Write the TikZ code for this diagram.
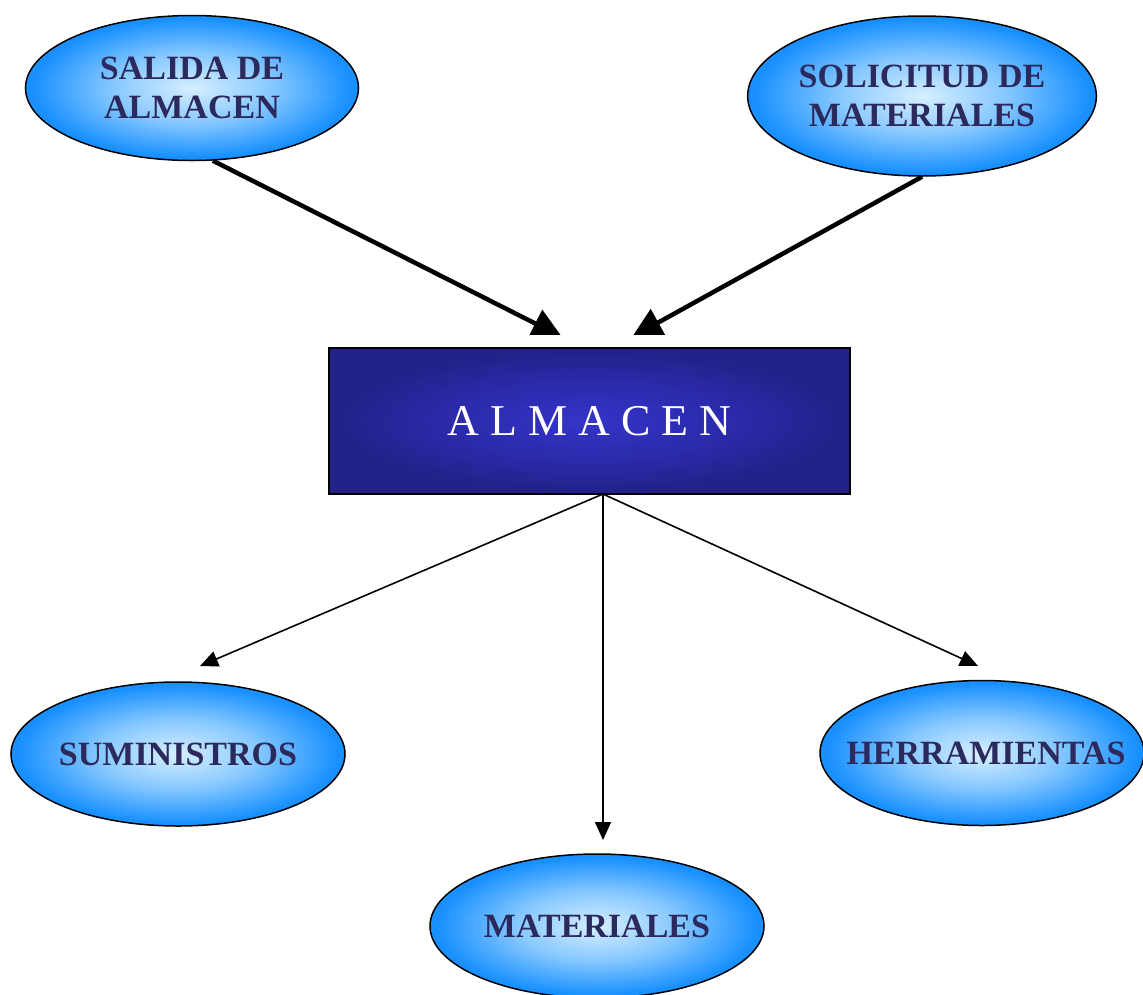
\documentclass[tikz,border=0pt]{standalone}
\usepackage{fontspec}
\setmainfont{Liberation Serif}
\usetikzlibrary{shapes.geometric,arrows.meta}

\definecolor{bubbleIn}{HTML}{D6EFFF}
\definecolor{bubbleMid}{HTML}{86C8FF}
\definecolor{bubbleOut}{HTML}{1890FF}
\definecolor{boxIn}{HTML}{3434C8}
\definecolor{boxMid}{HTML}{2A2AAA}
\definecolor{boxOut}{HTML}{22228A}
\definecolor{labelInk}{HTML}{2C2A5C}

% soft glow for the ovals and the central box
\pgfdeclareradialshading{bubbleglow}{\pgfpoint{0bp}{0bp}}{%
  color(0bp)=(bubbleIn); color(12bp)=(bubbleMid); color(24bp)=(bubbleOut); color(50bp)=(bubbleOut)}
\pgfdeclareradialshading{boxglow}{\pgfpoint{0bp}{0bp}}{%
  color(0bp)=(boxIn); color(14bp)=(boxMid); color(24bp)=(boxOut); color(50bp)=(boxOut)}

\tikzset{
  bubble/.style={ellipse, draw=black, line width=1.5pt, shading=bubbleglow,
    inner sep=0pt, align=center, text=labelInk,
    font=\bfseries\fontsize{34}{39}\selectfont},
  hub/.style={rectangle, draw=black, line width=2pt, shading=boxglow,
    inner sep=0pt, text=white, font=\fontsize{44}{50}\selectfont},
  heavy/.style={line width=4.5pt, -{Triangle[length=30pt,width=30pt]}},
  light/.style={line width=1.6pt, -{Triangle[length=18pt,width=16pt]}}
}

\begin{document}
\begin{tikzpicture}[x=1pt,y=-1pt]
\useasboundingbox (0,0) rectangle (1143,994);
\clip (0,0) rectangle (1143,994);

% sources
\node[bubble, minimum width=333pt, minimum height=145pt] (salida) at (192,88) {SALIDA DE\\ALMACEN};
\node[bubble, minimum width=348pt, minimum height=160pt] (solicitud) at (922,96) {SOLICITUD DE\\MATERIALES};

% store
\node[hub, minimum width=521pt, minimum height=146pt] (almacen) at (589.5,421) {A L M A C E N};

% outputs (zero-width label boxes keep the ovals at their set size)
\node[bubble, minimum width=334pt, minimum height=144pt] (suministros) at (178,754) {\makebox[0pt]{SUMINISTROS}};
\node[bubble, minimum width=324pt, minimum height=145pt] (herramientas) at (982,753) {\makebox[0pt]{\kern8pt HERRAMIENTAS}};
\node[bubble, minimum width=334pt, minimum height=144pt] (materiales) at (597,926) {\makebox[0pt]{MATERIALES}};

% arrow end points
\coordinate (salidaTip) at (562,337);
\coordinate (solicitudTip) at (632,337);
\coordinate (fork) at (603,494);
\coordinate (sumTip) at (200,666);
\coordinate (matTip) at (603,840);
\coordinate (herTip) at (978,666);

% inflow arrows, trimmed flat above the box
\begin{scope}
  \clip (0,0) rectangle (1143,334);
  \draw[heavy] (salida.-74) -- (salidaTip);
  \draw[heavy] (solicitud.south) -- (solicitudTip);
\end{scope}

% outflow arrows
\draw[light] (fork) -- (sumTip);
\draw[light] (fork) -- (matTip);
\draw[light] (fork) -- (herTip);
\end{tikzpicture}
\end{document}
